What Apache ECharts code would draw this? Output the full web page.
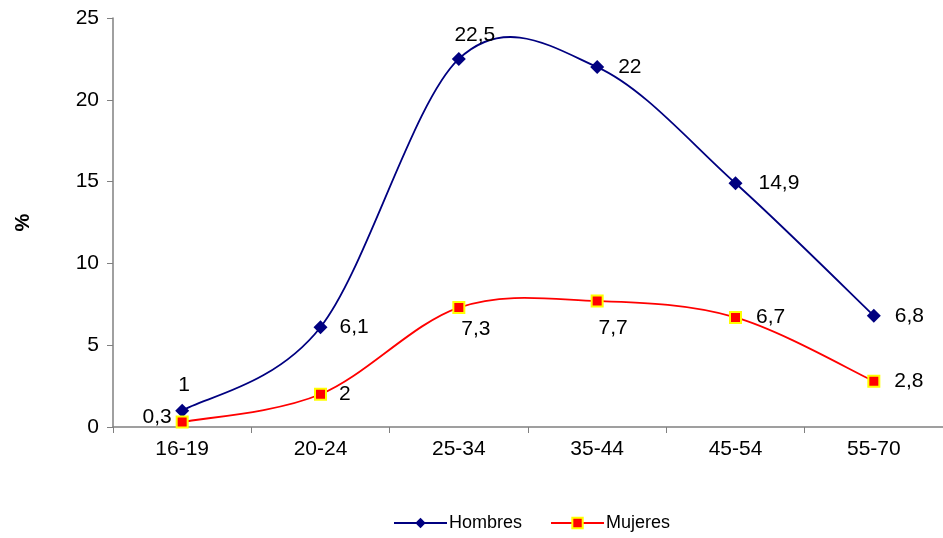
<!DOCTYPE html>
<html><head><meta charset="utf-8">
<script src="https://cdn.jsdelivr.net/npm/echarts@6/dist/echarts.min.js"></script>
<style>html,body{margin:0;padding:0;background:#fff}#c{width:943px;height:538px}</style>
</head><body><div id="c"></div>
<script>
const categories = ['16-19','20-24','25-34','35-44','45-54','55-70'];
const hombres = [1, 6.1, 22.5, 22, 14.9, 6.8];
const mujeres = [0.3, 2, 7.3, 7.7, 6.7, 2.8];
const yTicks = [0, 5, 10, 15, 20, 25];

const font = 'Liberation Sans, Arial, sans-serif';
const NAVY = '#000080', RED = '#ff0000';
const fmt = p => String(p.value).replace('.', ',');
const hLabelPos = [['top',[2,0]],['right',[4,0]],['top',[16,2]],['right',[6,0]],['right',[8,0]],['right',[6,0]]];
const mLabelPos = [['left',[4,-5]],['right',[4,0]],['bottom',[17,-3]],['bottom',[16,2]],['right',[6,0]],['right',[6,0]]];
function build(vals, pos){
  return vals.map((v,i)=>({value:v,label:{position:pos[i][0],offset:pos[i][1]}}));
}
// Excel-like smoothed curve (Catmull-Rom, tension 1/6) through the library's coordinate system
function curveSeries(name, vals, color){
  return {
    name:name, type:'custom', z:1, silent:true,
    data: vals.map((v,i)=>[i,v]), encode:{x:0,y:1},
    renderItem:function(params, api){
      if (params.dataIndex !== 0) return null;
      const p = vals.map((v,i)=>api.coord([i,v]));
      const n = p.length, children = [];
      for (let i=0;i<n-1;i++){
        const p0 = p[Math.max(i-1,0)], p1 = p[i], p2 = p[i+1], p3 = p[Math.min(i+2,n-1)];
        children.push({type:'bezierCurve',
          shape:{x1:p1[0],y1:p1[1],x2:p2[0],y2:p2[1],
            cpx1:p1[0]+(p2[0]-p0[0])/6, cpy1:p1[1]+(p2[1]-p0[1])/6,
            cpx2:p2[0]-(p3[0]-p1[0])/6, cpy2:p2[1]-(p3[1]-p1[1])/6},
          style:{stroke:color,lineWidth:1.8,fill:null}});
      }
      return {type:'group',children:children};
    }
  };
}
const chart = echarts.init(document.getElementById('c'));
chart.setOption({
  animation:false,
  grid:{left:113,right:0,top:18,bottom:111},
  legend:{top:509,left:388,itemWidth:53,itemHeight:13,itemGap:28,
    textStyle:{fontFamily:font,fontSize:18,color:'#000',padding:[0,0,0,-3]},
    data:[{name:'Hombres',lineStyle:{color:NAVY,width:2,opacity:1}},
          {name:'Mujeres',lineStyle:{color:RED,width:2,opacity:1}}]},
  xAxis:{type:'category',data:categories,boundaryGap:true,
    axisLine:{lineStyle:{color:'#808080',width:1.5}},
    axisTick:{show:true,alignWithLabel:false,length:6,lineStyle:{color:'#808080'}},
    axisLabel:{color:'#000',fontFamily:font,fontSize:21,margin:12}},
  yAxis:{type:'value',min:yTicks[0],max:yTicks[yTicks.length-1],interval:5,
    name:'%',nameLocation:'middle',nameGap:80,nameRotate:90,
    nameTextStyle:{fontFamily:font,fontSize:20,fontWeight:'bold',color:'#000'},
    splitLine:{show:false},
    axisLine:{show:true,lineStyle:{color:'#808080',width:1.5}},
    axisTick:{show:true,length:6,lineStyle:{color:'#808080'}},
    axisLabel:{color:'#000',fontFamily:font,fontSize:21,margin:14}},
  series:[
    curveSeries('Hombres curve', hombres, NAVY),
    curveSeries('Mujeres curve', mujeres, RED),
    {name:'Hombres',type:'line',z:3,data:build(hombres,hLabelPos),
     symbol:'diamond',symbolSize:14,
     itemStyle:{color:NAVY},lineStyle:{color:NAVY,width:1.8,opacity:0},
     label:{show:true,formatter:fmt,fontFamily:font,fontSize:21,color:'#000',distance:8}},
    {name:'Mujeres',type:'line',z:3,data:build(mujeres,mLabelPos),
     symbol:'rect',symbolSize:11,
     itemStyle:{color:RED,borderColor:'#ffff00',borderWidth:2},
     lineStyle:{color:RED,width:1.8,opacity:0},
     label:{show:true,formatter:fmt,fontFamily:font,fontSize:21,color:'#000',distance:8}}
  ]
});
</script></body></html>
